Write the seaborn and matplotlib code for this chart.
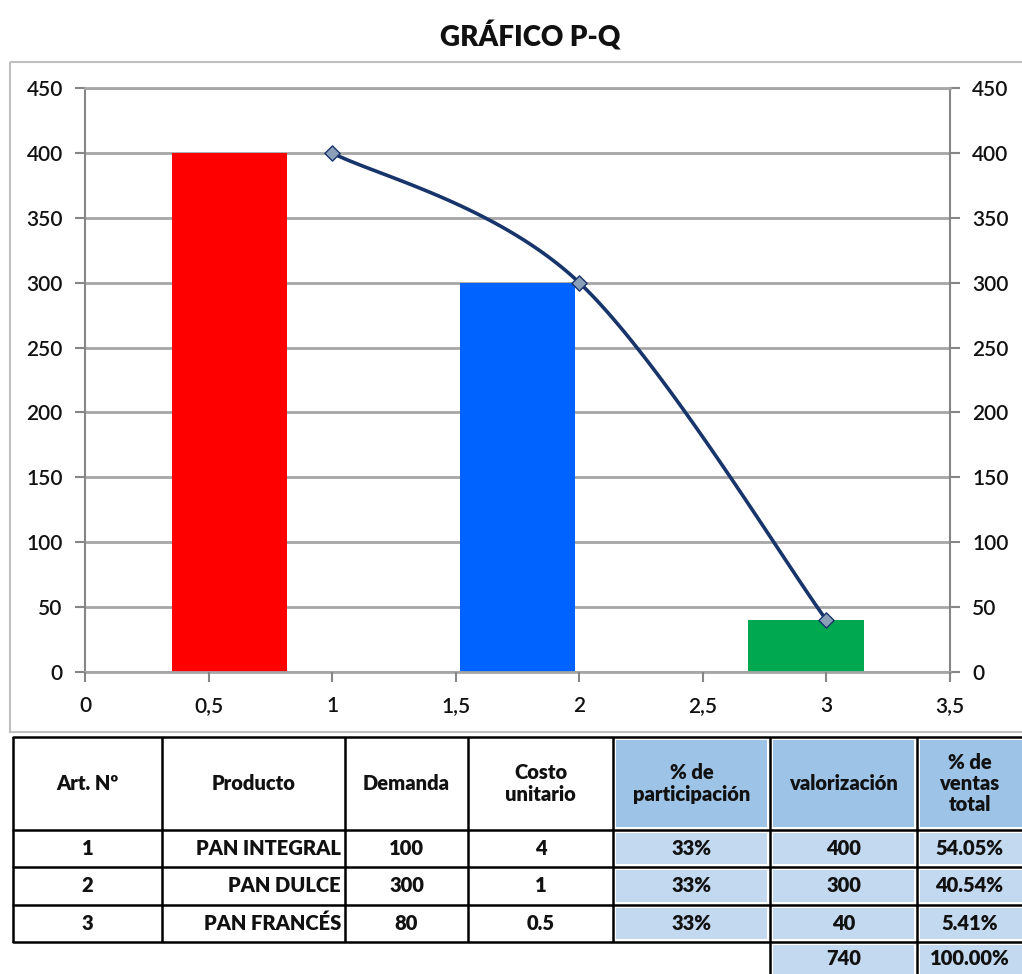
import numpy as np
import matplotlib
matplotlib.use("Agg")
import matplotlib.pyplot as plt
from matplotlib.patches import Rectangle
import seaborn as sns

# Chart data
productos = ["PAN INTEGRAL", "PAN DULCE", "PAN FRANCÉS"]
valorizacion = [400, 300, 40]
bar_colors = ["#FF0000", "#0062FF", "#00A84F"]
line_x = [1, 2, 3]
line_y = [400, 300, 40]
y_ticks = [0, 50, 100, 150, 200, 250, 300, 350, 400, 450]
x_ticks = [0, 0.5, 1, 1.5, 2, 2.5, 3, 3.5]
x_tick_labels = ["0", "0,5", "1", "1,5", "2", "2,5", "3", "3,5"]

# Table data
col_headers = ["Art. Nº", "Producto", "Demanda", "Costo\nunitario",
               "% de\nparticipación", "valorización", "% de\nventas\ntotal"]
art_num = ["1", "2", "3"]
demanda = ["100", "300", "80"]
costo = ["4", "1", "0.5"]
participacion = ["33%", "33%", "33%"]
valor_txt = ["400", "300", "40"]
pct_ventas = ["54.05%", "40.54%", "5.41%"]
total_row = ["740", "100.00%"]

sns.set_style("white")
plt.rcParams["font.family"] = ["Lato", "DejaVu Sans"]


def smooth_curve(xs, ys, n=60):
    # Catmull-Rom style smoothing (like the spreadsheet "smoothed line")
    p = np.column_stack([xs, ys]).astype(float)
    pts = np.vstack([p[0], p, p[-1]])
    out = []
    for i in range(1, len(pts) - 2):
        p0, p1, p2, p3 = pts[i - 1], pts[i], pts[i + 1], pts[i + 2]
        c1 = p1 + (p2 - p0) / 6.0
        c2 = p2 - (p3 - p1) / 6.0
        t = np.linspace(0, 1, n)[:, None]
        seg = ((1 - t) ** 3) * p1 + 3 * ((1 - t) ** 2) * t * c1 + 3 * (1 - t) * t ** 2 * c2 + t ** 3 * p2
        out.append(seg)
    out = np.vstack(out)
    return out[:, 0], out[:, 1]


fig = plt.figure(figsize=(10.22, 9.74), dpi=100)
W, H = 1022, 974

# overlay for border, title and table (pixel coordinates)
ov = fig.add_axes([0, 0, 1, 1])
ov.set_xlim(0, W)
ov.set_ylim(H, 0)
ov.axis("off")

ov.add_patch(Rectangle((10, 62), 1040, 670, fill=False, edgecolor="#BFBFBF", lw=1.5))
ov.text(530, 37, "GRÁFICO P-Q", ha="center", va="center", fontsize=20,
        fontweight="heavy", color="#111111")

# bars on categorical axis
ax = fig.add_axes([85 / W, 1 - 672 / H, 865 / W, 584 / H])
sns.barplot(x=productos, y=valorizacion, hue=productos, palette=bar_colors,
            order=productos, hue_order=productos, width=0.4, saturation=1,
            legend=False, ax=ax)
for p in ax.patches:
    p.set_edgecolor("none")
ax.set_xlim(-0.5, 2.5)
ax.set_ylim(0, 450)
ax.set_xticks([])
ax.set_xlabel("")
ax.set_ylabel("")
ax.set_yticks(y_ticks)
ax.set_axisbelow(True)
ax.grid(axis="y", color="#A6A6A6", lw=2)
for s in ["left", "right"]:
    ax.spines[s].set_color("#868686")
    ax.spines[s].set_linewidth(1.5)
for s in ["top", "bottom"]:
    ax.spines[s].set_color("#A6A6A6")
    ax.spines[s].set_linewidth(2)
ax.tick_params(axis="y", left=True, right=True, labelleft=True, labelright=True,
               length=7, width=1.5, color="#868686", pad=9, labelsize=15,
               labelcolor="#111111")
for lab in ax.get_yticklabels(which="both"):
    lab.set_fontweight("semibold")

# line on numeric axis 0..3.5
lx = ax.twiny()
lx.set_xlim(0, 3.5)
lx.xaxis.set_ticks_position("bottom")
lx.set_xticks(x_ticks)
lx.set_xticklabels(x_tick_labels, fontweight="semibold")
lx.tick_params(axis="x", length=7, width=1.5, color="#868686", pad=10,
               labelsize=15, labelcolor="#111111")
for s in lx.spines.values():
    s.set_visible(False)
cx, cy = smooth_curve(line_x, line_y)
lx.plot(cx, cy, color="#17346B", lw=2.6, solid_capstyle="round")
sns.scatterplot(x=line_x, y=line_y, marker="D", s=60, color="#8C9FB8",
                edgecolor="#17346B", linewidth=1, ax=lx, zorder=5)

# table
col_edges = [13, 162, 345, 468, 613, 770, 917, 1040]
row_edges = [737, 830, 867, 905, 942, 990]
head_blue = "#9DC3E6"
light_blue = "#C3D9F0"
inset = 3

def cell_fill(c, r, color):
    x0, x1 = col_edges[c], col_edges[c + 1]
    y0, y1 = row_edges[r], row_edges[r + 1]
    ov.add_patch(Rectangle((x0 + inset, y0 + inset), x1 - x0 - 2 * inset,
                           y1 - y0 - 2 * inset, facecolor=color, edgecolor="none"))

for c in [4, 5, 6]:
    cell_fill(c, 0, head_blue)
    for r in [1, 2, 3]:
        cell_fill(c, r, light_blue)
for c in [5, 6]:
    cell_fill(c, 4, light_blue)

lw_t = 1.8
for i, x in enumerate(col_edges):
    y_end = row_edges[5] if i >= 5 else row_edges[4]
    ov.plot([x, x], [row_edges[0], y_end], color="black", lw=lw_t, solid_capstyle="butt")
for y in row_edges[:5]:
    ov.plot([col_edges[0], col_edges[-1]], [y, y], color="black", lw=lw_t)

txt_kw = dict(fontsize=14.5, fontweight="heavy", color="#111111", va="center")

def cell_text(c, r, s, ha="center"):
    x0, x1 = col_edges[c], col_edges[c + 1]
    yc = (row_edges[r] + min(row_edges[r + 1], 975)) / 2
    if ha == "right":
        ov.text(x1 - 4, yc, s, ha="right", **txt_kw)
    else:
        ov.text((x0 + min(x1, W)) / 2, yc, s, ha="center", linespacing=1.15, **txt_kw)

for c, h in enumerate(col_headers):
    cell_text(c, 0, h)
columns = [art_num, productos, demanda, costo, participacion, valor_txt, pct_ventas]
for c, col in enumerate(columns):
    for r, v in enumerate(col):
        cell_text(c, r + 1, v, ha="right" if c == 1 else "center")
for c, v in zip([5, 6], total_row):
    cell_text(c, 4, v)

fig.savefig("out.png", dpi=100)
